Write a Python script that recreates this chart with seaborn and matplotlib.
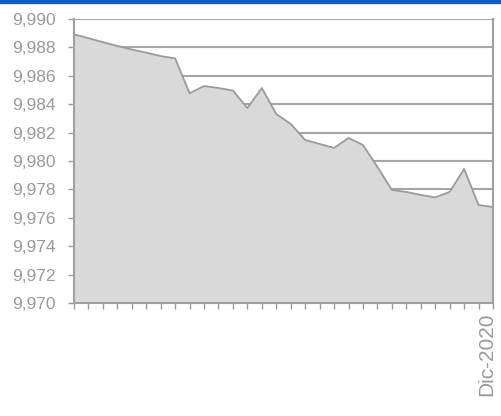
import matplotlib
matplotlib.use("Agg")
import matplotlib.pyplot as plt
import matplotlib.transforms as mtransforms
import seaborn as sns
import numpy as np
import pandas as pd

values = [9.98892, 9.98865, 9.98837, 9.98810, 9.98785, 9.98763, 9.98739, 9.98723,
          9.98477, 9.98528, 9.98514, 9.98496, 9.98373, 9.98514, 9.98331, 9.98261,
          9.98148, 9.98120, 9.98092, 9.98162, 9.98113, 9.97958, 9.97796, 9.97782,
          9.97761, 9.97744, 9.97782, 9.97944, 9.97690, 9.97676]
x_labels = [""] * 29 + ["Dic-2020"]
y_ticks = [9.970, 9.972, 9.974, 9.976, 9.978, 9.980, 9.982, 9.984, 9.986, 9.988, 9.990]

df = pd.DataFrame({"idx": np.arange(len(values)), "value": values})

sns.set_style("white")
plt.rcParams['font.family'] = ['Liberation Sans Narrow', 'Liberation Sans', 'DejaVu Sans']

fig = plt.figure(figsize=(5.01, 4.16), dpi=100)
ax = fig.add_axes([74/501, 1-303/416, (493-74)/501, (303-19)/416])

grid_c = "#a6a6a6"
for yv in y_ticks[1:]:
    ax.axhline(yv, color=grid_c, lw=1.5, zorder=0)

ax.fill_between(df["idx"], df["value"], 9.970, color="#d9d9d9", zorder=1, lw=0)
sns.lineplot(data=df, x="idx", y="value", ax=ax, color="#9a9a9a", lw=1.3, zorder=2)

ax.set_xlim(0, len(values) - 1)
ax.set_ylim(9.970, 9.990)
ax.set_yticks(y_ticks)
ax.set_yticklabels([f"{v:.3f}".replace(".", ",") for v in y_ticks])
ax.set_xticks(df["idx"])
ax.set_xticklabels(x_labels, rotation=90, va="top", ha="center")
ax.set_xlabel("")
ax.set_ylabel("")

ax.tick_params(axis="y", direction="out", length=4, width=1, color="#999999",
               labelcolor="#9a9a9a", labelsize=12.5, pad=9, left=True)
ax.tick_params(axis="x", direction="out", length=4, width=1, color="#999999",
               labelcolor="#9a9a9a", labelsize=15, pad=3, bottom=True)

offset = mtransforms.ScaledTranslation(-6/100, 0, fig.dpi_scale_trans)
for lab in ax.get_xticklabels():
    lab.set_transform(lab.get_transform() + offset)

for side in ["left", "bottom", "right"]:
    ax.spines[side].set_color("#a0a0a0")
    ax.spines[side].set_linewidth(1.5)
ax.spines["top"].set_visible(False)

fig.patches.append(matplotlib.patches.Rectangle((0, 1-2.5/416), 1, 2.5/416,
                   transform=fig.transFigure, color="#0a5cc8", zorder=10))

fig.savefig("out.png", dpi=100)
